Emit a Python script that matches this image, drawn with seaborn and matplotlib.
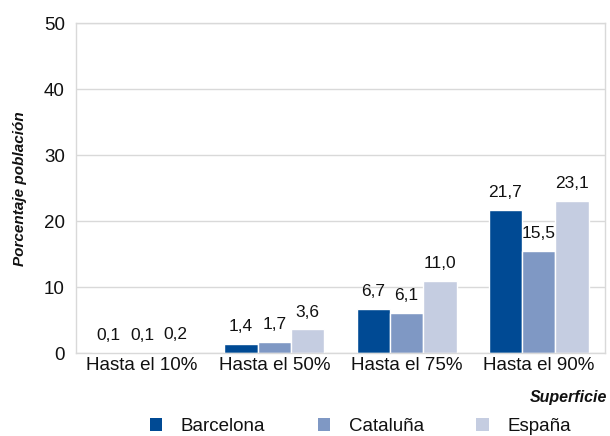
import matplotlib
matplotlib.use("Agg")
import matplotlib.pyplot as plt
import seaborn as sns
import pandas as pd
from matplotlib.patches import Patch

categories = ["Hasta el 10%", "Hasta el 50%", "Hasta el 75%", "Hasta el 90%"]
series = ["Barcelona", "Cataluña", "España"]
barcelona = [0.1, 1.4, 6.7, 21.7]
cataluna = [0.1, 1.7, 6.1, 15.5]
espana = [0.2, 3.6, 11.0, 23.1]
colors = ["#004a94", "#7f98c4", "#c5cde1"]

rows = []
for s, vals in zip(series, [barcelona, cataluna, espana]):
    for c, v in zip(categories, vals):
        rows.append({"cat": c, "serie": s, "val": v})
df = pd.DataFrame(rows)

sns.set_style("white")
plt.rcParams['font.family'] = ['Liberation Sans', 'DejaVu Sans']
plt.rcParams['text.color'] = '#111111'
plt.rcParams['axes.labelcolor'] = '#111111'
plt.rcParams['xtick.color'] = '#111111'
plt.rcParams['ytick.color'] = '#111111'

fig = plt.figure(figsize=(6.10, 4.36), dpi=100)
ax = fig.add_axes([0.1246, 0.19, 0.867, 0.757])
sns.barplot(data=df, x="cat", y="val", hue="serie", palette=colors,
            width=0.756, saturation=1, ax=ax, legend=False, errorbar=None)

for cont in ax.containers:
    labels = [f"{b.get_height():.1f}".replace(".", ",") for b in cont]
    ax.bar_label(cont, labels=labels, padding=7, fontsize=12.5, color='#111111')

ax.set_ylim(0, 50)
ax.set_yticks([0, 10, 20, 30, 40, 50])
ax.set_xlim(-0.5, 3.5)
ax.yaxis.grid(True, color="#d9d9d9", linewidth=1)
ax.set_axisbelow(True)
for sp in ["top", "right", "left", "bottom"]:
    ax.spines[sp].set_visible(True)
    ax.spines[sp].set_color("#d9d9d9")
    ax.spines[sp].set_linewidth(1)
ax.tick_params(axis="both", labelsize=13.5, length=0, pad=3)
ax.tick_params(axis="y", pad=8)
ax.set_xlabel("")
ax.set_ylabel("Porcentaje población", fontsize=11, fontweight="bold",
              fontstyle="italic", labelpad=12)
fig.text(0.995, 0.088, "Superficie", ha="right", va="center", fontsize=11.5,
         fontweight="bold", fontstyle="italic")

handles = [Patch(facecolor=c, edgecolor="none") for c in colors]
fig.legend(handles, series, loc="center", bbox_to_anchor=(0.591, 0.022),
           ncol=3, frameon=False, fontsize=13.5, handlelength=0.65,
           handleheight=0.65, columnspacing=2.8, handletextpad=1.0,
           borderpad=0)

fig.savefig("out.png", dpi=100)
